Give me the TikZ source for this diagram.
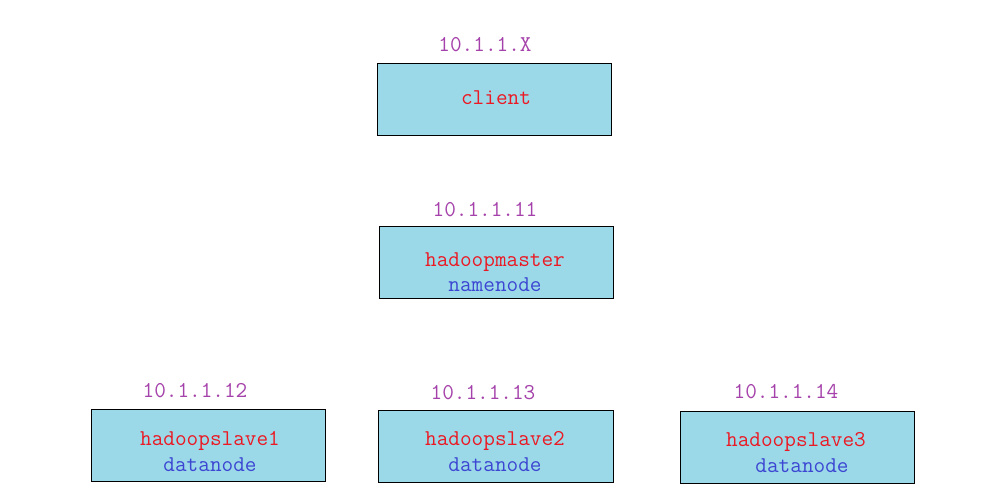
\documentclass[tikz,border=0pt]{standalone}
\usepackage{fontspec}
\definecolor{boxfill}{RGB}{155,217,233}
\definecolor{redtxt}{RGB}{235,25,35}
\definecolor{purptxt}{RGB}{165,65,170}
\definecolor{bluetxt}{RGB}{60,70,210}
\tikzset{
  hostbox/.style={draw=black, line width=1pt, fill=boxfill, inner sep=0pt},
  iplabel/.style={inner sep=0pt, text=purptxt, font=\ttfamily\fontsize{22.6}{22.6}\selectfont, anchor=center},
  hostname/.style={inner sep=0pt, text=redtxt, font=\ttfamily\fontsize{22.6}{22.6}\selectfont, anchor=center},
  roletxt/.style={inner sep=0pt, text=bluetxt, font=\ttfamily\fontsize{22.6}{22.6}\selectfont, anchor=center},
}
\begin{document}
\begin{tikzpicture}[x=1pt,y=-1pt]
\useasboundingbox[fill=white] (0,0) rectangle (997,493);
% boxes
\draw[hostbox] (377,63) rectangle (611,135) node[midway] (clientbox) {};
\draw[hostbox] (379,226) rectangle (613,298) node[midway] (masterbox) {};
\draw[hostbox] (91,409) rectangle (325,481) node[midway] (slaveonebox) {};
\draw[hostbox] (378,410) rectangle (613,482) node[midway] (slavetwobox) {};
\draw[hostbox] (680,411) rectangle (914,483) node[midway] (slavethreebox) {};
% ip labels
\node[iplabel] (ipclient) at (485,45) {10.1.1.X};
\node[iplabel] (ipmaster) at (485,210) {10.1.1.11};
\node[iplabel] (ipone) at (195,391) {10.1.1.12};
\node[iplabel] (iptwo) at (483,393) {10.1.1.13};
\node[iplabel] (ipthree) at (786,392) {10.1.1.14};
% texts
\node[hostname] (tclient) at (496,98) {client};
\node[hostname] (tmaster) at (495,262) {hadoopmaster};
\node[roletxt] (rmaster) at (495,285) {namenode};
\node[hostname] (tone) at (210,441) {hadoopslave1};
\node[roletxt] (rone) at (210,465) {datanode};
\node[hostname] (ttwo) at (495,441) {hadoopslave2};
\node[roletxt] (rtwo) at (495,465) {datanode};
\node[hostname] (tthree) at (796,442) {hadoopslave3};
\node[roletxt] (rthree) at (802,466) {datanode};
\end{tikzpicture}
\end{document}
